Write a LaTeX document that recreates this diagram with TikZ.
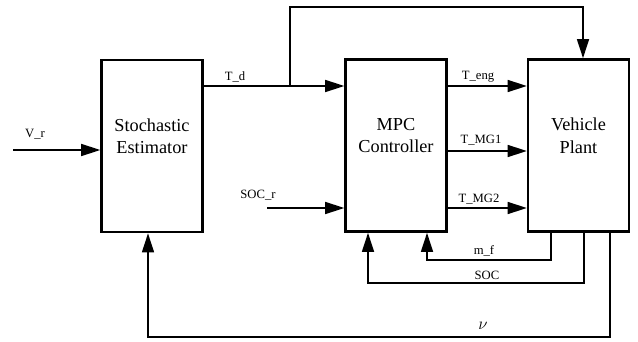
\documentclass[tikz,border=0pt]{standalone}
\usepackage{fontspec}
\setmainfont{Liberation Serif}
\usetikzlibrary{arrows.meta,positioning,calc}
\tikzset{
  bloco/.style={rectangle, draw=black, line width=1.8pt, minimum width=2.52cm, minimum height=4.3cm},
  titulo/.style={font=\fontsize{13}{16}\selectfont, align=center},
  rotulo/.style={font=\fontsize{9}{10}\selectfont, inner sep=1pt},
  seta/.style={-{Triangle[length=4.8mm,width=3mm]}, draw=black, line width=1.2pt},
}

\begin{document}
\begin{tikzpicture}[x=0.025cm, y=-0.025cm]
    \useasboundingbox (0,0) rectangle (638,342);
    \node[bloco] (est) at (152,146) {};
    \node[bloco] (mpc) at (396,145.5) {};
    \node[bloco] (planta) at (578.5,145.5) {};
    \node[titulo] (test) at ([yshift=0.25cm]est.center) {Stochastic\\Estimator};
    \node[titulo] (tmpc) at ([yshift=0.25cm]mpc.center) {MPC\\Controller};
    \node[titulo] (tplanta) at ([yshift=0.25cm]planta.center) {Vehicle\\Plant};
    \coordinate (vr) at (13,150);
    \coordinate (ramo) at (290,86);
    \coordinate (topo) at (583,7);
    \coordinate (socr) at (267,208);
    \coordinate (mf) at (427,260);
    \coordinate (soc) at (368,283);
    \coordinate (nu) at (148,337);
    \draw[seta] (vr) -- (vr -| est.west);
    \draw[seta] (est.east |- ramo) -- (mpc.west |- ramo);
    \draw[seta] (ramo) |- (topo) -- (topo |- planta.north);
    \draw[seta] (socr) -- (socr -| mpc.west);
    \draw[seta] (mpc.east |- ramo) -- (planta.west |- ramo);
    \draw[seta] (mpc.east |- 0,151) -- (planta.west |- 0,151);
    \draw[seta] (mpc.east |- socr) -- (planta.west |- socr);
    \draw[seta] (planta.south -| 551,0) |- (mf) -- (mf |- mpc.south);
    \draw[seta] (planta.south -| 584,0) |- (soc) -- (soc |- mpc.south);
    \draw[seta] (planta.south -| 610,0) |- (nu) -- (nu |- est.south);
    \node[rotulo] (lvr) at (35,134) {V\_r};
    \node[rotulo] (ltd) at (235,77) {T\_d};
    \node[rotulo] (lsocr) at (258,195) {SOC\_r};
    \node[rotulo] (lteng) at (478,77) {T\_eng};
    \node[rotulo] (ltmg1) at (481,140) {T\_MG1};
    \node[rotulo] (ltmg2) at (479,199) {T\_MG2};
    \node[rotulo] (lmf) at (484,251) {m\_f};
    \node[rotulo] (lsoc) at (487,275) {SOC};
    \node[rotulo, font=\fontsize{12}{12}\selectfont] (lnu) at (483,326) {$\nu$};
  \end{tikzpicture}
\end{document}
